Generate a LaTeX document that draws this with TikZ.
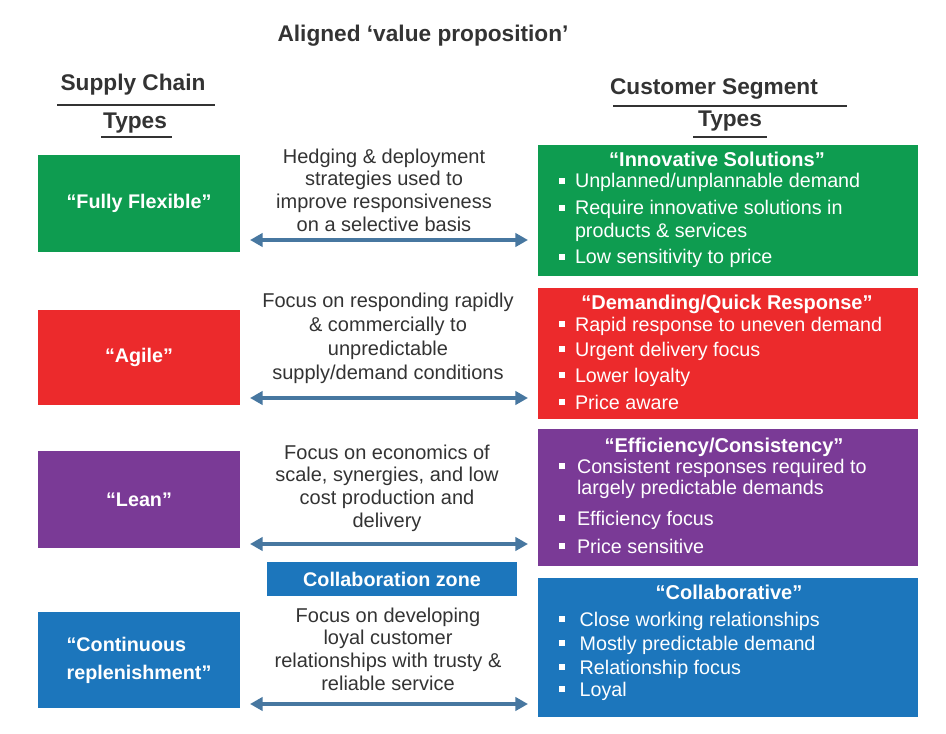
\documentclass[tikz,border=0pt]{standalone}
\usepackage{fontspec}
\setmainfont{Liberation Sans}
\usetikzlibrary{arrows.meta}
\definecolor{cgreen}{HTML}{0E9C50}
\definecolor{cred}{HTML}{EC2A2C}
\definecolor{cpurple}{HTML}{7A3A96}
\definecolor{cblue}{HTML}{1C76BC}
\definecolor{carrow}{HTML}{4777A0}
\definecolor{ctext}{HTML}{333333}
\newcommand{\bul}[1]{\raisebox{3pt}{\rule{4.5pt}{4.5pt}}\hspace{#1}}
\begin{document}
\begin{tikzpicture}[x=0.75pt,y=-0.75pt,
  every node/.style={inner sep=0pt, outer sep=0pt},
  hdr/.style={text=ctext, font=\bfseries\fontsize{17}{20}\selectfont},
  uline/.style={draw=ctext, line width=1.6pt},
  lbox/.style={minimum width=151.5pt, text=white, font=\bfseries\fontsize{14.8}{21}\selectfont},
  rbox/.style={minimum width=285pt},
  ttl/.style={anchor=base, text=white, font=\bfseries\fontsize{15}{18}\selectfont},
  itm/.style={anchor=base west, text=white, font=\fontsize{14.8}{17}\selectfont},
  mid/.style={text=ctext, align=center, font=\fontsize{15}{17}\selectfont},
  biarr/.style={draw=carrow, line width=2.4pt, {Triangle[length=9.5pt,width=10pt]}-{Triangle[length=9.5pt,width=10pt]}}]
\useasboundingbox (0,0) rectangle (946,734);

% headers
\node[hdr] (title) at (423,36) {Aligned ‘value proposition’};
\node[hdr] (sc1) at (133,85) {Supply Chain};
\node[hdr] (sc2) at (135,123) {Types};
\draw[uline] (57,105) -- (215,105);
\draw[uline] (101,137) -- (172,137);
\node[hdr] (cs1) at (714,89) {Customer Segment};
\node[hdr] (cs2) at (730,121) {Types};
\draw[uline] (613,106) -- (847,106);
\draw[uline] (693,137) -- (767,137);

% left boxes
\node[lbox, fill=cgreen, minimum height=72.75pt] (ff) at (139,203.5) {“Fully Flexible”};
\node[lbox, fill=cred, minimum height=71.25pt] (ag) at (139,357.5) {“Agile”};
\node[lbox, fill=cpurple, minimum height=72.75pt] (le) at (139,499.5) {“Lean”};
\node[lbox, fill=cblue, minimum height=72pt, align=left] (cr) at (139,660) {“Continuous\\replenishment”};

% right boxes
\node[rbox, fill=cgreen, minimum height=98.25pt] (inn) at (728,210.5) {};
\node[rbox, fill=cred, minimum height=98.25pt] (dem) at (728,353.5) {};
\node[rbox, fill=cpurple, minimum height=102.75pt] (eff) at (728,497.5) {};
\node[rbox, fill=cblue, minimum height=104.25pt] (col) at (728,647.5) {};

% right box titles
\node[ttl] (innT) at (717,167) {“Innovative Solutions”};
\node[ttl] (demT) at (727,310) {“Demanding/Quick Response”};
\node[ttl] (effT) at (724,452) {“Efficiency/Consistency”};
\node[ttl] (colT) at (729,599) {“Collaborative”};

% right box items
\node[itm] (g1) at (559,188) {\bul{7.5pt}Unplanned/unplannable demand};
\node[itm] (g2) at (559,215) {\bul{7.5pt}Require innovative solutions in};
\node[itm] (g2b) at (575,238) {products \& services};
\node[itm] (g3) at (559,264) {\bul{7.5pt}Low sensitivity to price};

\node[itm] (r1) at (559,331) {\bul{7.5pt}Rapid response to uneven demand};
\node[itm] (r2) at (559,356) {\bul{7.5pt}Urgent delivery focus};
\node[itm] (r3) at (559,382) {\bul{7.5pt}Lower loyalty};
\node[itm] (r4) at (559,409) {\bul{7.5pt}Price aware};

\node[itm] (p1) at (559,473) {\bul{9pt}Consistent responses required to};
\node[itm] (p1b) at (577,494) {largely predictable demands};
\node[itm] (p2) at (559,525) {\bul{9pt}Efficiency focus};
\node[itm] (p3) at (559,553) {\bul{9pt}Price sensitive};

\node[itm] (b1) at (559,626) {\bul{11pt}Close working relationships};
\node[itm] (b2) at (559,650) {\bul{11pt}Mostly predictable demand};
\node[itm] (b3) at (559,674) {\bul{11pt}Relationship focus};
\node[itm] (b4) at (559,696) {\bul{11pt}Loyal};

% middle texts
\node[mid] (m1) at (384,190) {Hedging \& deployment\\strategies used to\\improve responsiveness\\on a selective basis};
\node[mid, font=\fontsize{15}{18}\selectfont] (m2) at (388,338) {Focus on responding rapidly\\\& commercially to\\unpredictable\\supply/demand conditions};
\node[mid] (m3) at (387,488) {Focus on economics of\\scale, synergies, and low\\cost production and\\delivery};
\node[mid] (m4) at (388,649) {Focus on developing\\loyal customer\\relationships with trusty \&\\reliable service};

% collaboration zone
\node[fill=cblue, minimum width=187.5pt, minimum height=25.5pt, text=white, font=\bfseries\fontsize{14.8}{18}\selectfont] (cz) at (392,579) {Collaboration zone};

% arrows
\coordinate (y1) at (0,240);
\coordinate (y2) at (0,398);
\coordinate (y3) at (0,544);
\coordinate (y4) at (0,704);
\draw[biarr] ([xshift=7.5pt]ff.east |- y1) -- ([xshift=-7.5pt]inn.west |- y1);
\draw[biarr] ([xshift=7.5pt]ag.east |- y2) -- ([xshift=-7.5pt]dem.west |- y2);
\draw[biarr] ([xshift=7.5pt]le.east |- y3) -- ([xshift=-7.5pt]eff.west |- y3);
\draw[biarr] ([xshift=7.5pt]cr.east |- y4) -- ([xshift=-7.5pt]col.west |- y4);
\end{tikzpicture}
\end{document}
